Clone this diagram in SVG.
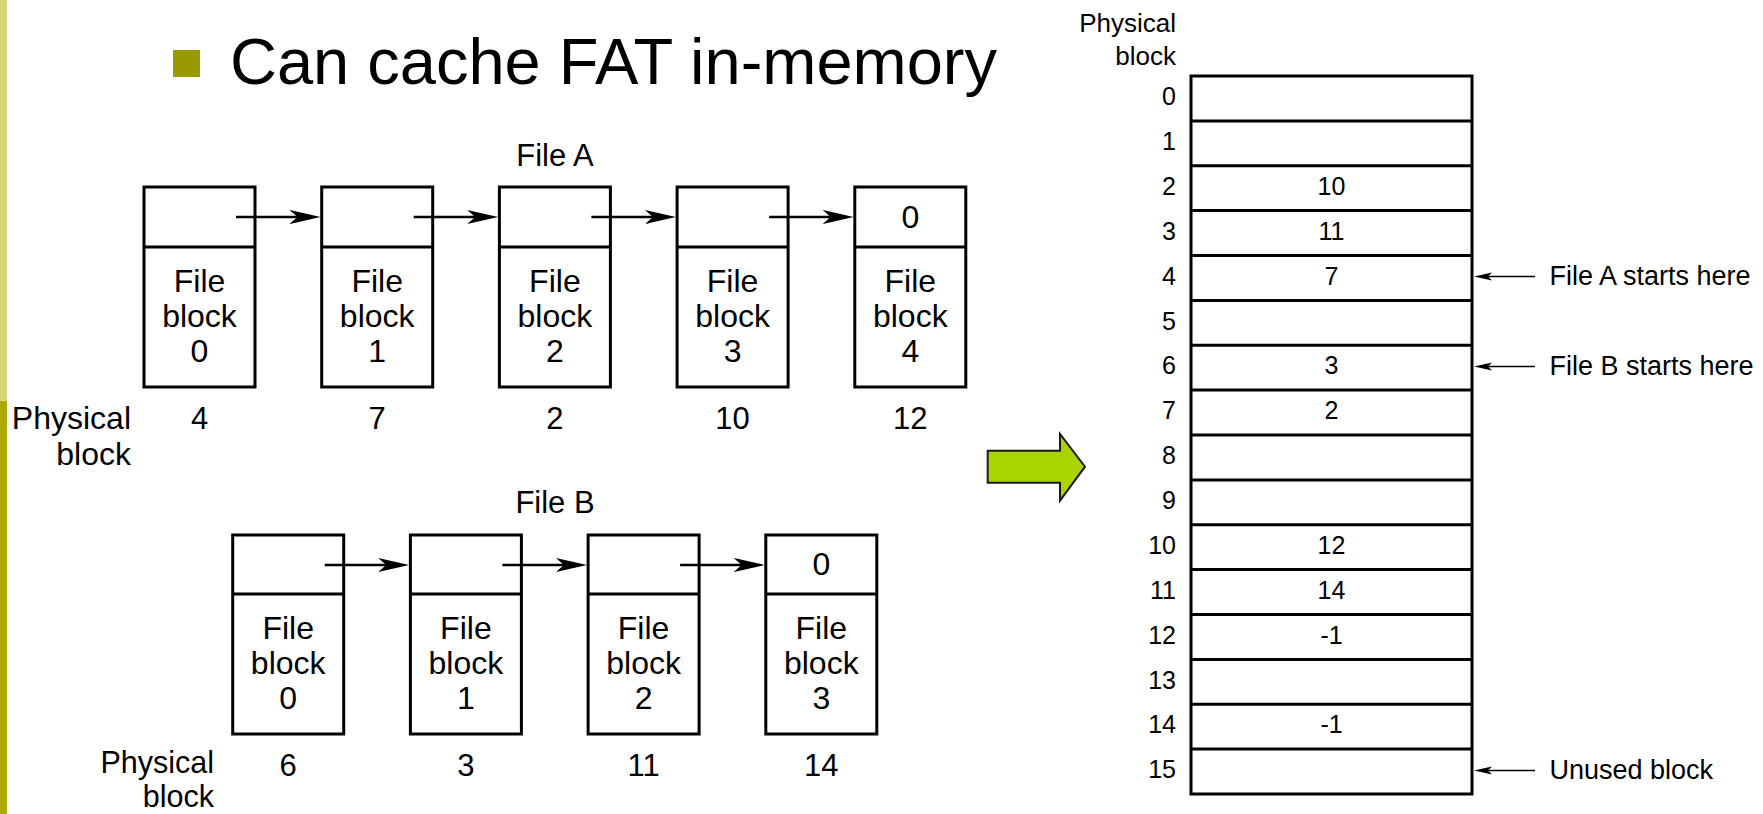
<svg xmlns="http://www.w3.org/2000/svg" width="1763" height="814" viewBox="0 0 1763 814">
  <style>
    .t { font-family: "Liberation Sans", Arial, Helvetica, sans-serif; fill: #000; }
    .blk { font-size: 32px; text-anchor: middle; }
    .lab { font-size: 32px; text-anchor: end; }
    .labs { font-size: 30.5px; text-anchor: end; }
    .num { font-size: 31px; text-anchor: middle; }
    .cap { font-size: 31px; text-anchor: middle; }
    .rown { font-size: 25px; text-anchor: end; }
    .hdr { font-size: 26px; text-anchor: end; }
    .val { font-size: 25px; text-anchor: middle; }
    .ptr { font-size: 27px; text-anchor: start; }
    .box { fill: #fff; stroke: #000; stroke-width: 3; }
    .div { stroke: #000; stroke-width: 3; }
    .link { stroke: #000; stroke-width: 2.6; fill: none; }
    .pline { stroke: #000; stroke-width: 1.6; fill: none; }
  </style>
  <defs>
    <marker id="head" markerUnits="userSpaceOnUse" markerWidth="32" markerHeight="16" viewBox="0 0 32 16" refX="8" refY="8" orient="auto">
      <path d="M0,1 L31,8 L0,15 L8,8 Z" fill="#000"/>
    </marker>
    <marker id="phead" markerUnits="userSpaceOnUse" markerWidth="20" markerHeight="10" viewBox="0 0 20 10" refX="4" refY="5" orient="auto">
      <path d="M0,1 L18,5 L0,9 L4,5 Z" fill="#000"/>
    </marker>
  </defs>

  <rect width="1763" height="814" fill="#fff"/>

  <!-- slide edge bar -->
  <rect x="0" y="0" width="7" height="401" fill="#d6d47c"/>
  <rect x="0" y="401" width="7" height="413" fill="#aaaa00"/>

  <!-- heading -->
  <g id="title">
    <rect x="173" y="50" width="27" height="27" fill="#999900"/>
    <text class="t" x="230" y="84" font-size="65">Can cache FAT in-memory</text>
  </g>

  <!-- File A chain -->
  <g id="fileA-label"><text class="t cap" x="555" y="166">File A</text></g>
  <g id="fileA-0">
    <rect class="box" x="144" y="187" width="111" height="200"/>
    <line class="div" x1="144" y1="247" x2="255" y2="247"/>
    <text class="t blk" x="199.5" y="292">File</text>
    <text class="t blk" x="199.5" y="327">block</text>
    <text class="t blk" x="199.5" y="362">0</text>
    <text class="t num" x="199.5" y="429">4</text>
  </g>
  <g id="fileA-1">
    <rect class="box" x="321.7" y="187" width="111" height="200"/>
    <line class="div" x1="321.7" y1="247" x2="432.7" y2="247"/>
    <text class="t blk" x="377.2" y="292">File</text>
    <text class="t blk" x="377.2" y="327">block</text>
    <text class="t blk" x="377.2" y="362">1</text>
    <text class="t num" x="377.2" y="429">7</text>
  </g>
  <g id="fileA-2">
    <rect class="box" x="499.4" y="187" width="111" height="200"/>
    <line class="div" x1="499.4" y1="247" x2="610.4" y2="247"/>
    <text class="t blk" x="554.9" y="292">File</text>
    <text class="t blk" x="554.9" y="327">block</text>
    <text class="t blk" x="554.9" y="362">2</text>
    <text class="t num" x="554.9" y="429">2</text>
  </g>
  <g id="fileA-3">
    <rect class="box" x="677.1" y="187" width="111" height="200"/>
    <line class="div" x1="677.1" y1="247" x2="788.1" y2="247"/>
    <text class="t blk" x="732.6" y="292">File</text>
    <text class="t blk" x="732.6" y="327">block</text>
    <text class="t blk" x="732.6" y="362">3</text>
    <text class="t num" x="732.6" y="429">10</text>
  </g>
  <g id="fileA-4">
    <rect class="box" x="854.8" y="187" width="111" height="200"/>
    <line class="div" x1="854.8" y1="247" x2="965.8" y2="247"/>
    <text class="t blk" x="910.3" y="228">0</text>
    <text class="t blk" x="910.3" y="292">File</text>
    <text class="t blk" x="910.3" y="327">block</text>
    <text class="t blk" x="910.3" y="362">4</text>
    <text class="t num" x="910.3" y="429">12</text>
  </g>
  <g id="fileA-physical">
    <text class="t lab" x="131" y="429">Physical</text>
    <text class="t lab" x="131" y="465">block</text>
  </g>

  <!-- File B chain -->
  <g id="fileB-label"><text class="t cap" x="555" y="513">File B</text></g>
  <g id="fileB-0">
    <rect class="box" x="232.7" y="535" width="111" height="199"/>
    <line class="div" x1="232.7" y1="594" x2="343.7" y2="594"/>
    <text class="t blk" x="288.2" y="639">File</text>
    <text class="t blk" x="288.2" y="674">block</text>
    <text class="t blk" x="288.2" y="709">0</text>
    <text class="t num" x="288.2" y="776">6</text>
  </g>
  <g id="fileB-1">
    <rect class="box" x="410.4" y="535" width="111" height="199"/>
    <line class="div" x1="410.4" y1="594" x2="521.4" y2="594"/>
    <text class="t blk" x="465.9" y="639">File</text>
    <text class="t blk" x="465.9" y="674">block</text>
    <text class="t blk" x="465.9" y="709">1</text>
    <text class="t num" x="465.9" y="776">3</text>
  </g>
  <g id="fileB-2">
    <rect class="box" x="588.1" y="535" width="111" height="199"/>
    <line class="div" x1="588.1" y1="594" x2="699.1" y2="594"/>
    <text class="t blk" x="643.6" y="639">File</text>
    <text class="t blk" x="643.6" y="674">block</text>
    <text class="t blk" x="643.6" y="709">2</text>
    <text class="t num" x="643.6" y="776">11</text>
  </g>
  <g id="fileB-3">
    <rect class="box" x="765.8" y="535" width="111" height="199"/>
    <line class="div" x1="765.8" y1="594" x2="876.8" y2="594"/>
    <text class="t blk" x="821.3" y="575">0</text>
    <text class="t blk" x="821.3" y="639">File</text>
    <text class="t blk" x="821.3" y="674">block</text>
    <text class="t blk" x="821.3" y="709">3</text>
    <text class="t num" x="821.3" y="776">14</text>
  </g>
  <g id="fileB-physical">
    <text class="t labs" x="214" y="773">Physical</text>
    <text class="t labs" x="214" y="807">block</text>
  </g>

  <!-- big green transition arrow -->
  <g id="green-arrow">
    <polygon points="987.7,450.7 1060,450.7 1060,434 1085,466.7 1060,500.7 1060,482.7 987.7,482.7" fill="#aad400" stroke="#1a1a1a" stroke-width="2"/>
  </g>

  <!-- File allocation table -->
  <g id="fat-header">
    <text class="t hdr" x="1176" y="32">Physical</text>
    <text class="t hdr" x="1176" y="65">block</text>
  </g>
  <g id="fat-table">
    <rect class="box" x="1191" y="76" width="281" height="718"/>
    <line class="div" x1="1191" y1="120.9" x2="1472" y2="120.9"/>
    <line class="div" x1="1191" y1="165.75" x2="1472" y2="165.75"/>
    <line class="div" x1="1191" y1="210.6" x2="1472" y2="210.6"/>
    <line class="div" x1="1191" y1="255.5" x2="1472" y2="255.5"/>
    <line class="div" x1="1191" y1="300.4" x2="1472" y2="300.4"/>
    <line class="div" x1="1191" y1="345.25" x2="1472" y2="345.25"/>
    <line class="div" x1="1191" y1="390.1" x2="1472" y2="390.1"/>
    <line class="div" x1="1191" y1="435" x2="1472" y2="435"/>
    <line class="div" x1="1191" y1="479.9" x2="1472" y2="479.9"/>
    <line class="div" x1="1191" y1="524.75" x2="1472" y2="524.75"/>
    <line class="div" x1="1191" y1="569.6" x2="1472" y2="569.6"/>
    <line class="div" x1="1191" y1="614.5" x2="1472" y2="614.5"/>
    <line class="div" x1="1191" y1="659.4" x2="1472" y2="659.4"/>
    <line class="div" x1="1191" y1="704.25" x2="1472" y2="704.25"/>
    <line class="div" x1="1191" y1="749.1" x2="1472" y2="749.1"/>
  </g>
  <g id="fat-rows">
    <text class="t rown" x="1176" y="105">0</text>
    <text class="t rown" x="1176" y="150">1</text>
    <text class="t rown" x="1176" y="195">2</text>
    <text class="t rown" x="1176" y="240">3</text>
    <text class="t rown" x="1176" y="284.5">4</text>
    <text class="t rown" x="1176" y="329.5">5</text>
    <text class="t rown" x="1176" y="374">6</text>
    <text class="t rown" x="1176" y="419">7</text>
    <text class="t rown" x="1176" y="464">8</text>
    <text class="t rown" x="1176" y="509">9</text>
    <text class="t rown" x="1176" y="554">10</text>
    <text class="t rown" x="1176" y="598.5">11</text>
    <text class="t rown" x="1176" y="643.5">12</text>
    <text class="t rown" x="1176" y="688.5">13</text>
    <text class="t rown" x="1176" y="733">14</text>
    <text class="t rown" x="1176" y="778">15</text>
  </g>
  <g id="fat-values">
    <text class="t val" x="1331.5" y="195">10</text>
    <text class="t val" x="1331.5" y="240">11</text>
    <text class="t val" x="1331.5" y="284.5">7</text>
    <text class="t val" x="1331.5" y="374">3</text>
    <text class="t val" x="1331.5" y="419">2</text>
    <text class="t val" x="1331.5" y="554">12</text>
    <text class="t val" x="1331.5" y="598.5">14</text>
    <text class="t val" x="1331.5" y="643.5">-1</text>
    <text class="t val" x="1331.5" y="733">-1</text>
  </g>
  <g id="fat-notes">
    <text class="t ptr" x="1549.5" y="285">File A starts here</text>
    <text class="t ptr" x="1549.5" y="375">File B starts here</text>
    <text class="t ptr" x="1549.5" y="779">Unused block</text>
  </g>

  <!-- connectors -->
  <g id="connectors">
    <line class="link" x1="236" y1="217" x2="297.5" y2="217" marker-end="url(#head)"/>
    <line class="link" x1="413.7" y1="217" x2="475.2" y2="217" marker-end="url(#head)"/>
    <line class="link" x1="591.4" y1="217" x2="652.9" y2="217" marker-end="url(#head)"/>
    <line class="link" x1="769.1" y1="217" x2="830.6" y2="217" marker-end="url(#head)"/>
    <line class="link" x1="324.7" y1="565" x2="386.2" y2="565" marker-end="url(#head)"/>
    <line class="link" x1="502.4" y1="565" x2="563.9" y2="565" marker-end="url(#head)"/>
    <line class="link" x1="680.1" y1="565" x2="741.6" y2="565" marker-end="url(#head)"/>
    <line class="pline" x1="1535" y1="276.5" x2="1488" y2="276.5" marker-end="url(#phead)"/>
    <line class="pline" x1="1535" y1="366.5" x2="1488" y2="366.5" marker-end="url(#phead)"/>
    <line class="pline" x1="1535" y1="770.5" x2="1488" y2="770.5" marker-end="url(#phead)"/>
  </g>
</svg>
